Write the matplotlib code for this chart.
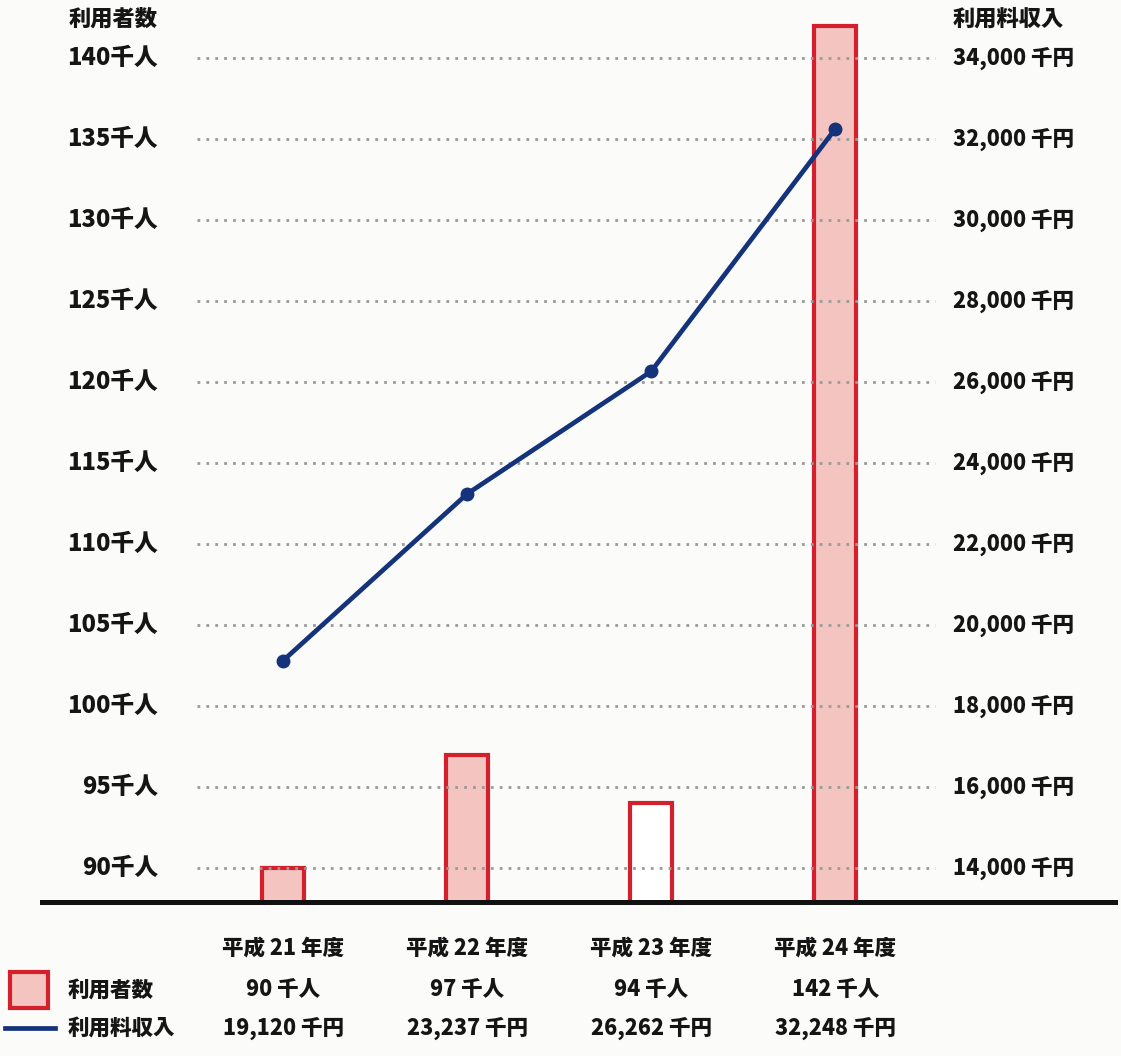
import matplotlib
matplotlib.use('Agg')
import matplotlib.pyplot as plt
import matplotlib.transforms as mtransforms
from matplotlib.patches import Rectangle
from matplotlib.lines import Line2D

plt.rcParams['font.family'] = ['Noto Sans CJK JP', 'DejaVu Sans']

# ---- data ----
years = ['平成 21 年度', '平成 22 年度', '平成 23 年度', '平成 24 年度']
users = [90, 97, 94, 142]                 # 千人
revenue = [19120, 23237, 26262, 32248]    # 千円
users_labels = ['90 千人', '97 千人', '94 千人', '142 千人']
revenue_labels = ['19,120 千円', '23,237 千円', '26,262 千円', '32,248 千円']
left_ticks = [90, 95, 100, 105, 110, 115, 120, 125, 130, 135, 140]
left_tick_labels = ['90千人', '95千人', '100千人', '105千人', '110千人', '115千人',
                    '120千人', '125千人', '130千人', '135千人', '140千人']
right_tick_labels = ['14,000 千円', '16,000 千円', '18,000 千円', '20,000 千円',
                     '22,000 千円', '24,000 千円', '26,000 千円', '28,000 千円',
                     '30,000 千円', '32,000 千円', '34,000 千円']
bar_fills = ['#f3c4c0', '#f3c4c0', '#ffffff', '#f3c4c0']

W, H = 1121, 1056
fig = plt.figure(figsize=(W / 100, H / 100), dpi=100)
fig.patch.set_facecolor('#fbfbf9')

ax = fig.add_axes([42 / W, 1 - 902 / H, 1073 / W, 882 / H])
ax.set_facecolor('none')
xs = list(range(len(years)))
ax.set_xlim(-1.31, 4.52)
y0 = 87.9
y1 = y0 + 882 / 16.2
ax.set_ylim(y0, y1)

# bars
ax.bar(xs, users, width=0.23, color=bar_fills, edgecolor='#d3202c', linewidth=3.0, zorder=2)

# gridlines (dotted), over bars
for t in left_ticks:
    ax.axhline(t, xmin=0.1445, xmax=0.832, color='#9a9a9a', linewidth=2.0,
               linestyle=(0, (1, 2.2)), zorder=3)

# spines
for s in ['top', 'left', 'right']:
    ax.spines[s].set_visible(False)
ax.spines['bottom'].set_linewidth(3.6)
ax.spines['bottom'].set_color('#111111')
ax.spines['bottom'].set_zorder(5)
ax.set_xticks([])
ax.set_yticks([])

fw = 'heavy'
fs = 17
col = '#151515'
# left tick labels
ytrans = mtransforms.blended_transform_factory(ax.transAxes, ax.transData)
for t, lab in zip(left_ticks, left_tick_labels):
    ax.text(0.108, t, lab, transform=ytrans, ha='right', va='center',
            fontsize=fs, fontweight=fw, color=col)

# right axis for revenue
ax2 = ax.twinx()
ax2.set_ylim(14000 + (y0 - 90) * 400, 14000 + (y1 - 90) * 400)
ax2.set_yticks([])
for s in ax2.spines.values():
    s.set_visible(False)
right_ticks = [14000 + (t - 90) * 400 for t in left_ticks]
ytrans2 = mtransforms.blended_transform_factory(ax2.transAxes, ax2.transData)
for t, lab in zip(right_ticks, right_tick_labels):
    ax2.text(0.849, t, lab, transform=ytrans2, ha='left', va='center',
             fontsize=fs - 1.5, fontweight=fw, color=col)

ax2.plot(xs, revenue, color='#14337a', linewidth=3.4, marker='o', markersize=9,
         markerfacecolor='#14337a', markeredgecolor='#14337a', zorder=6)

# axis titles
fig.text(158 / W, 1 - 19 / H, '利用者数', ha='right', va='center', fontsize=fs - 1,
         fontweight=fw, color=col)
fig.text(953 / W, 1 - 19 / H, '利用料収入', ha='left', va='center', fontsize=fs - 1,
         fontweight=fw, color=col)

# bottom table
btrans = mtransforms.blended_transform_factory(ax.transData, fig.transFigure)
for x, yr, u, r in zip(xs, years, users_labels, revenue_labels):
    ax.text(x, 1 - 948 / H, yr, transform=btrans, ha='center', va='center',
            fontsize=fs - 1.5, fontweight=fw, color=col)
    ax.text(x, 1 - 990 / H, u, transform=btrans, ha='center', va='center',
            fontsize=fs - 1.5, fontweight=fw, color=col)
    ax.text(x, 1 - 1028 / H, r, transform=btrans, ha='center', va='center',
            fontsize=fs - 1.5, fontweight=fw, color=col)

# legend
fig.add_artist(Rectangle((10 / W, 1 - 1008 / H), 38 / W, 36 / H, transform=fig.transFigure,
                         facecolor='#f3c4c0', edgecolor='#d3202c', linewidth=3.0))
fig.add_artist(Line2D([5 / W, 55 / W], [1 - 1028 / H, 1 - 1028 / H], transform=fig.transFigure,
                      color='#14337a', linewidth=3.4))
fig.text(68 / W, 1 - 990 / H, '利用者数', ha='left', va='center', fontsize=fs - 1.5,
         fontweight=fw, color=col)
fig.text(68 / W, 1 - 1028 / H, '利用料収入', ha='left', va='center', fontsize=fs - 1.5,
         fontweight=fw, color=col)

fig.savefig('out.png', dpi=100, facecolor=fig.get_facecolor())
